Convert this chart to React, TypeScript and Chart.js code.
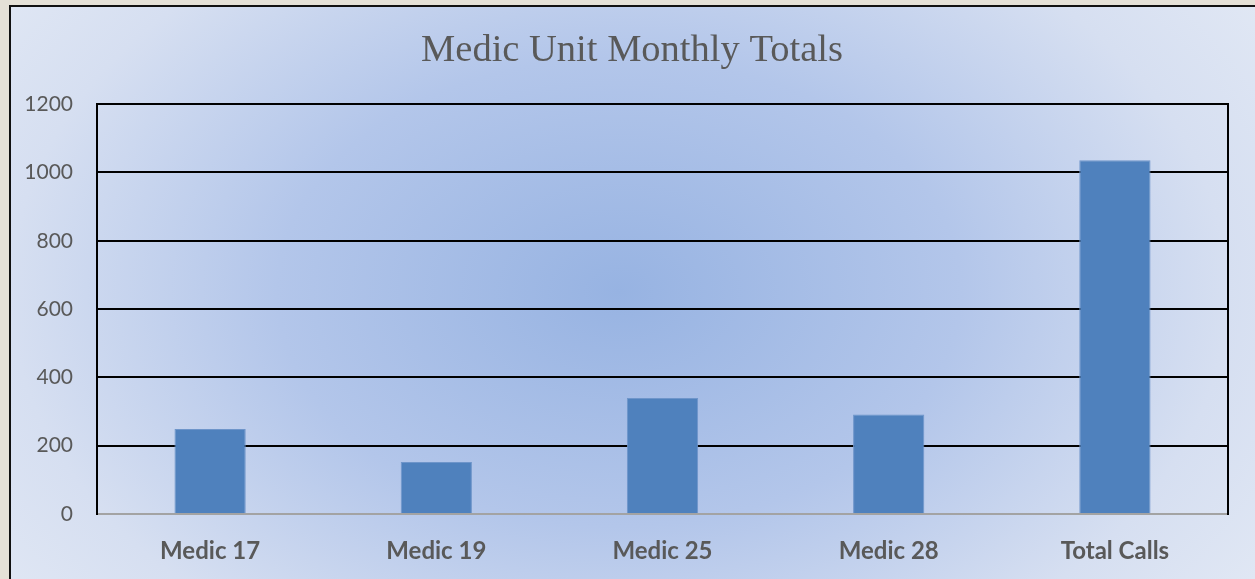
import React, { useEffect, useRef } from "react";
import { Chart, registerables } from "chart.js";

Chart.register(...registerables);

const chartTitle = "Medic Unit Monthly Totals";
const categories = ["Medic 17", "Medic 19", "Medic 25", "Medic 28", "Total Calls"];
const callCounts = [249, 152, 340, 291, 1036];
const yTicks = [0, 200, 400, 600, 800, 1000, 1200];

export default function App() {
  const ref = useRef<HTMLCanvasElement>(null);

  useEffect(() => {
    document.body.style.margin = "0";
    const chart = new Chart(ref.current!, {
      type: "bar",
      data: {
        labels: categories,
        datasets: [
          {
            data: callCounts,
            backgroundColor: "#4f81bd",
            borderColor: "#6e95ca",
            borderWidth: 1,
            barPercentage: 0.315,
            categoryPercentage: 1,
          },
        ],
      },
      options: {
        animation: false,
        responsive: false,
        layout: { padding: 0 },
        plugins: {
          legend: { display: false },
          tooltip: { enabled: false },
          title: {
            display: true,
            text: chartTitle,
            color: "#595959",
            font: { family: "'Liberation Serif', serif", size: 38.5, weight: "normal", lineHeight: 1.2 },
            padding: { top: 28, bottom: 30 },
          },
        },
        scales: {
          x: {
            grid: { display: false },
            border: { display: true, color: "#a3a3a3", width: 2 },
            ticks: {
              color: "#595959",
              font: { family: "Lato", size: 24, weight: "bold" },
              padding: 15,
            },
            afterFit: (s: any) => {
              s.height = 65;
            },
          },
          y: {
            type: "linear",
            min: 0,
            max: 1200,
            afterBuildTicks: (s: any) => {
              s.ticks = yTicks.map((v) => ({ value: v }));
            },
            grid: {
              color: (c: any) => (c.tick && c.tick.value === 0 ? "rgba(0,0,0,0)" : "#000000"),
              lineWidth: 2,
              drawTicks: false,
            },
            border: { display: true, color: "#000000", width: 2 },
            ticks: {
              color: "#595959",
              font: { family: "Lato", size: 21 },
              padding: 24,
              callback: (v: any) => String(v),
            },
            afterFit: (s: any) => {
              s.width = 88;
            },
          },
          y2: {
            type: "linear",
            position: "right",
            min: 0,
            max: 1200,
            grid: { display: false },
            ticks: { display: false },
            border: { display: true, color: "#000000", width: 2 },
            afterFit: (s: any) => {
              s.width = 27;
            },
          },
        },
      },
    } as any);
    return () => chart.destroy();
  }, []);

  return (
    <div
      style={{
        position: "relative",
        width: 1255,
        height: 579,
        overflow: "hidden",
        background: "#e5e1d7",
      }}
    >
      <div
        style={{
          position: "absolute",
          left: 9,
          top: 5,
          width: 1260,
          height: 590,
          borderLeft: "2px solid #111",
          borderTop: "2px solid #111",
          background:
            "radial-gradient(ellipse 760px 520px at 608px 285px, #97b3e2 0%, #b3c6ea 45%, #d6dff1 80%, #e0e7f4 100%)",
        }}
      />
      <canvas
        ref={ref}
        width={1246}
        height={579}
        style={{ position: "absolute", left: 9, top: 0, width: 1246, height: 579 }}
      />
    </div>
  );
}
